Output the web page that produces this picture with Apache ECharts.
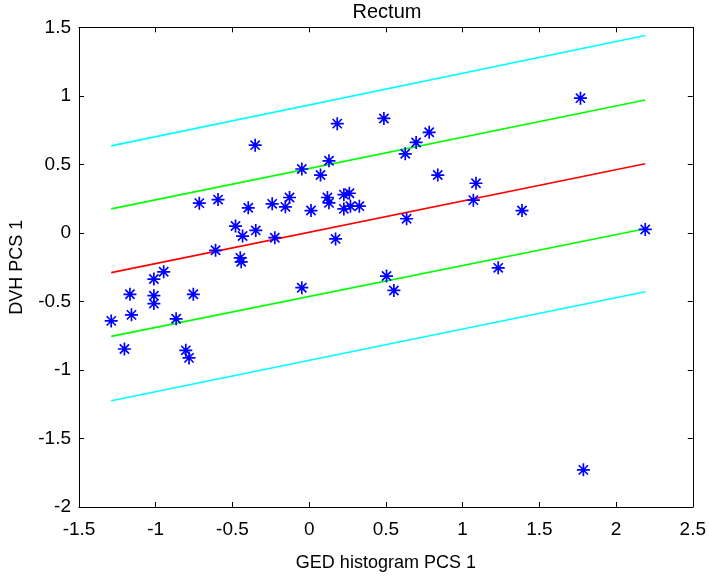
<!DOCTYPE html>
<html>
<head>
<meta charset="utf-8">
<script src="https://cdn.jsdelivr.net/npm/echarts@6/dist/echarts.min.js"></script>
<style>html,body{margin:0;padding:0;background:#fff;}#c{width:709px;height:577px;}</style>
</head>
<body>
<div id="c"></div>
<script>
var titleText = 'Rectum';
var xName = 'GED histogram PCS 1';
var yName = 'DVH PCS 1';

var pointsX = [-1.29,-1.204,-1.168,-1.158,-1.012,-1.012,-1.012,-0.948,-0.867,-0.804,-0.783,-0.755,-0.716,-0.61,-0.594,-0.48,-0.449,-0.443,-0.434,-0.397,-0.352,-0.348,-0.241,-0.224,-0.155,-0.128,-0.048,-0.048,0.012,0.074,0.119,0.129,0.129,0.172,0.183,0.226,0.262,0.226,0.269,0.327,0.487,0.504,0.552,0.626,0.635,0.697,0.782,0.838,1.07,1.087,1.232,1.387,1.768,1.787,2.19];
var pointsY = [-0.642,-0.847,-0.448,-0.598,-0.337,-0.458,-0.516,-0.284,-0.627,-0.857,-0.912,-0.448,0.217,-0.127,0.243,0.05,-0.182,-0.211,-0.023,0.183,0.64,0.018,0.212,-0.035,0.19,0.258,0.466,-0.40,0.163,0.422,0.258,0.219,0.526,-0.044,0.797,0.279,0.289,0.175,0.195,0.195,0.835,-0.315,-0.42,0.577,0.103,0.66,0.734,0.422,0.239,0.362,-0.255,0.163,0.983,-1.729,0.025];

var lineX = [-1.29, 2.19];
var redLine = [-0.29, 0.505];
var greenUpper = [0.175, 0.97];
var greenLower = [-0.755, 0.03];
var cyanUpper = [0.635, 1.44];
var cyanLower = [-1.225, -0.43];

var xTicks = {min: -1.5, max: 2.5, interval: 0.5};
var yTicks = {min: -2, max: 1.5, interval: 0.5};

function zip(xs, ys) { return xs.map(function (x, i) { return [x, ys[i]]; }); }

var starPath = 'path://M8.7 0 L11.3 0 L11.3 20 L8.7 20 Z M0 8.7 L20 8.7 L20 11.3 L0 11.3 Z ' +
  'M3.8 2.0 L18.0 16.2 L16.2 18.0 L2.0 3.8 Z M16.2 2.0 L18.0 3.8 L3.8 18.0 L2.0 16.2 Z ' +
  'M6.8 6.8 L13.2 6.8 L13.2 13.2 L6.8 13.2 Z';

var font = 'Liberation Sans, Arial, Helvetica, sans-serif';

function lineSeries(ys, color) {
  return {
    type: 'line', data: zip(lineX, ys), symbol: 'none', silent: true,
    lineStyle: {color: color, width: 1.6}, z: 2
  };
}

var axisCommon = {
  type: 'value', splitLine: {show: false},
  axisLine: {show: true, onZero: false, lineStyle: {color: '#000', width: 1}},
  axisTick: {show: true, inside: true, length: 5, lineStyle: {color: '#000'}}
};

var chart = echarts.init(document.getElementById('c'), null, {renderer: 'canvas'});
chart.setOption({
  animation: false,
  backgroundColor: '#fff',
  title: {text: titleText, left: 382, textAlign: 'center', top: 0, padding: [2, 5, 5, 5],
    textStyle: {fontFamily: font, fontSize: 20, fontWeight: 'normal', color: '#000'}},
  grid: {left: 70.7, right: 15.7, top: 27.3, bottom: 67},
  xAxis: [
    Object.assign({}, axisCommon, {min: xTicks.min, max: xTicks.max, interval: xTicks.interval, position: 'bottom',
      name: xName, nameLocation: 'middle', nameGap: 47,
      nameTextStyle: {fontFamily: font, fontSize: 18, color: '#000'},
      axisLabel: {fontFamily: font, fontSize: 19, color: '#000', margin: 13}}),
    Object.assign({}, axisCommon, {min: xTicks.min, max: xTicks.max, interval: xTicks.interval, position: 'top',
      axisLabel: {show: false}})
  ],
  yAxis: [
    Object.assign({}, axisCommon, {min: yTicks.min, max: yTicks.max, interval: yTicks.interval, position: 'left',
      name: yName, nameLocation: 'middle', nameGap: 53, nameRotate: 90,
      nameTextStyle: {fontFamily: font, fontSize: 18, color: '#000'},
      axisLabel: {fontFamily: font, fontSize: 19, color: '#000', margin: 8}}),
    Object.assign({}, axisCommon, {min: yTicks.min, max: yTicks.max, interval: yTicks.interval, position: 'right',
      axisLabel: {show: false}})
  ],
  series: [
    lineSeries(cyanUpper, '#00ffff'),
    lineSeries(greenUpper, '#00ff00'),
    lineSeries(redLine, '#ff0000'),
    lineSeries(greenLower, '#00ff00'),
    lineSeries(cyanLower, '#00ffff'),
    {
      type: 'scatter', data: zip(pointsX, pointsY), symbol: starPath, symbolSize: 13,
      itemStyle: {color: '#0000ff', opacity: 1}, z: 3
    }
  ]
});
</script>
</body>
</html>
